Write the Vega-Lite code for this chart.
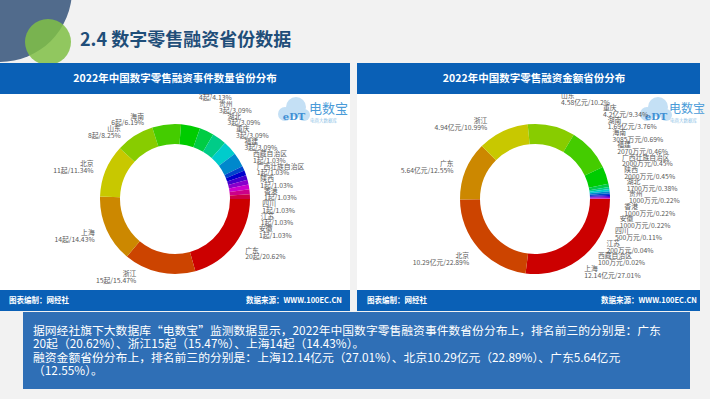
{
  "$schema": "https://vega.github.io/schema/vega-lite/v6.json",
  "width": 710,
  "height": 399,
  "autosize": {"type": "none"},
  "padding": 0,
  "background": "#f2f2f2",
  "config": {"view": {"stroke": null}, "font": "Noto Sans CJK SC", "text": {"fontSize": 6.8, "lineHeight": 6.8}},
  "data": {"values": [{}]},
  "resolve": {"scale": {"theta": "independent", "x": "independent", "y": "independent", "color": "independent"}},
  "layer": [
    {"mark": {"type": "arc", "x": 0, "y": -10, "outerRadius": 72, "innerRadius": 0, "theta": 0, "theta2": 6.2832, "fill": "#516b8c"}, "encoding": {}},
    {"mark": {"type": "arc", "x": 48, "y": 42, "outerRadius": 23, "innerRadius": 0, "theta": 0, "theta2": 6.2832, "fill": "#80bf45", "opacity": 0.85}, "encoding": {}},
    {"mark": {"type": "text", "x": 80, "y": 41, "text": "2.4 数字零售融资省份数据", "fontSize": 18, "fontWeight": "bold", "fill": "#1f4e79", "align": "left", "baseline": "middle"}, "encoding": {}},
    {"mark": {"type": "rect", "x": 0, "x2": 350, "y": 94, "y2": 290, "fill": "#ffffff"}, "encoding": {}},
    {"mark": {"type": "rect", "x": 357, "x2": 700, "y": 94, "y2": 290, "fill": "#ffffff"}, "encoding": {}},
    {"mark": {"type": "arc", "x": 285, "y": 114, "outerRadius": 7, "innerRadius": 0, "theta": 0, "theta2": 6.2832, "fill": "#c4e0f5"}, "encoding": {}},
    {"mark": {"type": "arc", "x": 296, "y": 107, "outerRadius": 10, "innerRadius": 0, "theta": 0, "theta2": 6.2832, "fill": "#c4e0f5"}, "encoding": {}},
    {"mark": {"type": "arc", "x": 304, "y": 115, "outerRadius": 6, "innerRadius": 0, "theta": 0, "theta2": 6.2832, "fill": "#c4e0f5"}, "encoding": {}},
    {"mark": {"type": "text", "x": 294, "y": 117, "text": "eDT", "fontSize": 10, "fontWeight": "bold", "fill": "#3f8fd4", "align": "center", "baseline": "middle", "font": "DejaVu Serif"}, "encoding": {}},
    {"mark": {"type": "text", "x": 309, "y": 109, "text": "电数宝", "fontSize": 13, "fill": "#4a9bd8", "align": "left", "baseline": "middle"}, "encoding": {}},
    {"mark": {"type": "text", "x": 310, "y": 121, "text": "电商大数据库", "fontSize": 4.5, "fill": "#8fbfe6", "align": "left", "baseline": "middle"}, "encoding": {}},
    {"mark": {"type": "arc", "x": 647, "y": 114, "outerRadius": 7, "innerRadius": 0, "theta": 0, "theta2": 6.2832, "fill": "#c4e0f5"}, "encoding": {}},
    {"mark": {"type": "arc", "x": 658, "y": 107, "outerRadius": 10, "innerRadius": 0, "theta": 0, "theta2": 6.2832, "fill": "#c4e0f5"}, "encoding": {}},
    {"mark": {"type": "arc", "x": 666, "y": 115, "outerRadius": 6, "innerRadius": 0, "theta": 0, "theta2": 6.2832, "fill": "#c4e0f5"}, "encoding": {}},
    {"mark": {"type": "text", "x": 656, "y": 117, "text": "eDT", "fontSize": 10, "fontWeight": "bold", "fill": "#3f8fd4", "align": "center", "baseline": "middle", "font": "DejaVu Serif"}, "encoding": {}},
    {"mark": {"type": "text", "x": 669, "y": 109, "text": "电数宝", "fontSize": 12, "fill": "#4a9bd8", "align": "left", "baseline": "middle"}, "encoding": {}},
    {"mark": {"type": "text", "x": 670, "y": 121, "text": "电商大数据库", "fontSize": 4.5, "fill": "#8fbfe6", "align": "left", "baseline": "middle"}, "encoding": {}},
    {
      "data": {"values": [
        {"rank": 1, "province": "广东", "count": 20, "pct": 20.62},
        {"rank": 2, "province": "浙江", "count": 15, "pct": 15.47},
        {"rank": 3, "province": "上海", "count": 14, "pct": 14.43},
        {"rank": 4, "province": "北京", "count": 11, "pct": 11.34},
        {"rank": 5, "province": "山东", "count": 8, "pct": 8.25},
        {"rank": 6, "province": "海南", "count": 6, "pct": 6.19},
        {"rank": 7, "province": "湖南", "count": 4, "pct": 4.13},
        {"rank": 8, "province": "贵州", "count": 3, "pct": 3.09},
        {"rank": 9, "province": "湖北", "count": 3, "pct": 3.09},
        {"rank": 10, "province": "重庆", "count": 3, "pct": 3.09},
        {"rank": 11, "province": "福建", "count": 3, "pct": 3.09},
        {"rank": 12, "province": "西藏自治区", "count": 1, "pct": 1.03},
        {"rank": 13, "province": "广西壮族自治区", "count": 1, "pct": 1.03},
        {"rank": 14, "province": "陕西", "count": 1, "pct": 1.03},
        {"rank": 15, "province": "香港", "count": 1, "pct": 1.03},
        {"rank": 16, "province": "四川", "count": 1, "pct": 1.03},
        {"rank": 17, "province": "江苏", "count": 1, "pct": 1.03},
        {"rank": 18, "province": "安徽", "count": 1, "pct": 1.03}
      ]},
      "transform": [
        {"stack": "count", "groupby": [], "sort": [{"field": "rank", "order": "ascending"}], "as": ["v0", "v1"]},
        {"calculate": "(datum.v0 + datum.v1) / 2", "as": "mid"},
        {"calculate": "[datum.province, datum.count + '起/' + datum.pct + '%']", "as": "lab"}
      ],
      "layer": [
        {
          "mark": {"type": "arc", "x": 175, "y": 199, "outerRadius": 75, "innerRadius": 55},
          "encoding": {
            "theta": {"field": "v0", "type": "quantitative", "scale": {"domain": [0, 97], "range": [1.5708, 7.854]}},
            "theta2": {"field": "v1"},
            "color": {"field": "rank", "type": "ordinal", "legend": null, "scale": {"domain": [1,2,3,4,5,6,7,8,9,10,11,12,13,14,15,16,17,18], "range": ["#cc0000","#cc4400","#cc8800","#c8c800","#88cc00","#44cc00","#00cc00","#00cc44","#00cc88","#00cccc","#0088cc","#0044cc","#0000cc","#4400cc","#8800cc","#cc00cc","#cc0088","#cc0044"]}}
          }
        },
        {
          "transform": [{"filter": "datum.rank == 1"}],
          "mark": {"type": "text", "x": 175, "y": 199, "radius": 88, "dy": -1.5, "align": "left", "baseline": "middle", "fill": "#595959"},
          "encoding": {
            "theta": {"field": "mid", "type": "quantitative", "scale": {"domain": [0, 97], "range": [1.5708, 7.854]}},
            "text": {"field": "lab", "type": "nominal"}
          }
        },
        {
          "transform": [{"filter": "datum.rank >= 3 && datum.rank <= 4"}],
          "mark": {"type": "text", "x": 175, "y": 199, "radius": 88, "dy": -1.5, "align": "right", "baseline": "middle", "fill": "#595959"},
          "encoding": {
            "theta": {"field": "mid", "type": "quantitative", "scale": {"domain": [0, 97], "range": [1.5708, 7.854]}},
            "text": {"field": "lab", "type": "nominal"}
          }
        },
        {
          "transform": [{"filter": "datum.rank == 5"}],
          "mark": {"type": "text", "x": 175, "y": 199, "radius": 88, "dx": -7, "dy": 4, "align": "right", "baseline": "middle", "fill": "#595959"},
          "encoding": {
            "theta": {"field": "mid", "type": "quantitative", "scale": {"domain": [0, 97], "range": [1.5708, 7.854]}},
            "text": {"field": "lab", "type": "nominal"}
          }
        },
        {
          "transform": [{"filter": "datum.rank == 2 || datum.rank == 6"}],
          "mark": {"type": "text", "x": 175, "y": 199, "radius": 80, "dx": -22, "dy": -3, "align": "right", "baseline": "middle", "fill": "#595959"},
          "encoding": {
            "theta": {"field": "mid", "type": "quantitative", "scale": {"domain": [0, 97], "range": [1.5708, 7.854]}},
            "text": {"field": "lab", "type": "nominal"}
          }
        },
        {
          "transform": [{"filter": "datum.rank >= 7"}],
          "mark": {"type": "text", "align": "left", "baseline": "middle", "fill": "#595959"},
          "encoding": {
            "x": {"field": "rank", "type": "quantitative", "axis": null, "scale": {"domain": [7, 8, 12, 15, 18], "range": [199, 219, 253, 264, 259], "zero": false, "nice": false}},
            "y": {"field": "rank", "type": "quantitative", "axis": null, "scale": {"domain": [7, 18], "range": [91.5, 229], "zero": false, "nice": false}},
            "text": {"field": "lab", "type": "nominal"}
          }
        }
      ],
      "resolve": {"scale": {"x": "independent", "y": "independent"}}
    },
    {
      "data": {"values": [
        {"rank": 1, "province": "上海", "wan": 121400, "pct": 27.01},
        {"rank": 2, "province": "北京", "wan": 102900, "pct": 22.89},
        {"rank": 3, "province": "广东", "wan": 56400, "pct": 12.55},
        {"rank": 4, "province": "浙江", "wan": 49400, "pct": 10.99},
        {"rank": 5, "province": "山东", "wan": 45800, "pct": 10.2},
        {"rank": 6, "province": "重庆", "wan": 42000, "pct": 9.34},
        {"rank": 7, "province": "湖南", "wan": 16900, "pct": 3.76},
        {"rank": 8, "province": "海南", "wan": 3085, "pct": 0.69},
        {"rank": 9, "province": "福建", "wan": 2070, "pct": 0.46},
        {"rank": 10, "province": "广西壮族自治区", "wan": 2000, "pct": 0.45},
        {"rank": 11, "province": "陕西", "wan": 2000, "pct": 0.45},
        {"rank": 12, "province": "湖北", "wan": 1700, "pct": 0.38},
        {"rank": 13, "province": "贵州", "wan": 1000, "pct": 0.22},
        {"rank": 14, "province": "香港", "wan": 1000, "pct": 0.22},
        {"rank": 15, "province": "安徽", "wan": 1000, "pct": 0.22},
        {"rank": 16, "province": "四川", "wan": 500, "pct": 0.11},
        {"rank": 17, "province": "江苏", "wan": 200, "pct": 0.04},
        {"rank": 18, "province": "西藏自治区", "wan": 100, "pct": 0.02}
      ]},
      "transform": [
        {"stack": "wan", "groupby": [], "sort": [{"field": "rank", "order": "ascending"}], "as": ["v0", "v1"]},
        {"calculate": "(datum.v0 + datum.v1) / 2", "as": "mid"},
        {"calculate": "[datum.province, (datum.wan >= 10000 ? (datum.wan / 10000) + '亿元' : datum.wan + '万元') + '/' + datum.pct + '%']", "as": "lab"}
      ],
      "layer": [
        {
          "mark": {"type": "arc", "x": 535, "y": 199, "outerRadius": 75, "innerRadius": 55},
          "encoding": {
            "theta": {"field": "v0", "type": "quantitative", "scale": {"domain": [0, 449455], "range": [1.5708, 7.854]}},
            "theta2": {"field": "v1"},
            "color": {"field": "rank", "type": "ordinal", "legend": null, "scale": {"domain": [1,2,3,4,5,6,7,8,9,10,11,12,13,14,15,16,17,18], "range": ["#cc0000","#cc4400","#cc8800","#c8c800","#88cc00","#44cc00","#00cc00","#00cc44","#00cc88","#00cccc","#0088cc","#0044cc","#0000cc","#4400cc","#8800cc","#cc00cc","#cc0088","#cc0044"]}}
          }
        },
        {
          "transform": [{"filter": "datum.rank == 1"}],
          "mark": {"type": "text", "x": 535, "y": 199, "radius": 88, "dx": -9, "dy": 4, "align": "left", "baseline": "middle", "fill": "#595959"},
          "encoding": {
            "theta": {"field": "mid", "type": "quantitative", "scale": {"domain": [0, 449455], "range": [1.5708, 7.854]}},
            "text": {"field": "lab", "type": "nominal"}
          }
        },
        {
          "transform": [{"filter": "datum.rank >= 2 && datum.rank <= 3"}],
          "mark": {"type": "text", "x": 535, "y": 199, "radius": 88, "dy": -1.5, "align": "right", "baseline": "middle", "fill": "#595959"},
          "encoding": {
            "theta": {"field": "mid", "type": "quantitative", "scale": {"domain": [0, 449455], "range": [1.5708, 7.854]}},
            "text": {"field": "lab", "type": "nominal"}
          }
        },
        {
          "transform": [{"filter": "datum.rank == 4"}],
          "mark": {"type": "text", "x": 535, "y": 199, "radius": 88, "dx": -10, "dy": 2, "align": "right", "baseline": "middle", "fill": "#595959"},
          "encoding": {
            "theta": {"field": "mid", "type": "quantitative", "scale": {"domain": [0, 449455], "range": [1.5708, 7.854]}},
            "text": {"field": "lab", "type": "nominal"}
          }
        },
        {
          "transform": [{"filter": "datum.rank >= 5"}],
          "mark": {"type": "text", "align": "left", "baseline": "middle", "fill": "#595959"},
          "encoding": {
            "x": {"field": "rank", "type": "quantitative", "axis": null, "scale": {"domain": [5, 6, 10, 13, 16, 18], "range": [561, 603, 622, 629, 615, 598], "zero": false, "nice": false}},
            "y": {"field": "rank", "type": "quantitative", "axis": null, "scale": {"domain": [5, 18], "range": [96, 256], "zero": false, "nice": false}},
            "text": {"field": "lab", "type": "nominal"}
          }
        }
      ],
      "resolve": {"scale": {"x": "independent", "y": "independent"}}
    },
    {"mark": {"type": "rect", "x": 0, "x2": 350, "y": 63, "y2": 94, "fill": "#0a60b6"}, "encoding": {}},
    {"mark": {"type": "rect", "x": 357, "x2": 700, "y": 63, "y2": 94, "fill": "#0a60b6"}, "encoding": {}},
    {"mark": {"type": "text", "x": 175, "y": 79, "text": "2022年中国数字零售融资事件数量省份分布", "fontSize": 10.5, "fontWeight": "bold", "fill": "#ffffff", "align": "center", "baseline": "middle"}, "encoding": {}},
    {"mark": {"type": "text", "x": 534, "y": 79, "text": "2022年中国数字零售融资金额省份分布", "fontSize": 10.5, "fontWeight": "bold", "fill": "#ffffff", "align": "center", "baseline": "middle"}, "encoding": {}},
    {"mark": {"type": "rect", "x": 0, "x2": 350, "y": 290, "y2": 311, "fill": "#0a60b6"}, "encoding": {}},
    {"mark": {"type": "rect", "x": 357, "x2": 700, "y": 290, "y2": 311, "fill": "#0a60b6"}, "encoding": {}},
    {"mark": {"type": "text", "x": 9, "y": 301, "text": "图表编制：网经社", "fontSize": 7.5, "fontWeight": "bold", "fill": "#ffffff", "align": "left", "baseline": "middle"}, "encoding": {}},
    {"mark": {"type": "text", "x": 342, "y": 301, "text": "数据来源：WWW.100EC.CN", "fontSize": 7.5, "fontWeight": "bold", "fill": "#ffffff", "align": "right", "baseline": "middle"}, "encoding": {}},
    {"mark": {"type": "text", "x": 367, "y": 301, "text": "图表编制：网经社", "fontSize": 7.5, "fontWeight": "bold", "fill": "#ffffff", "align": "left", "baseline": "middle"}, "encoding": {}},
    {"mark": {"type": "text", "x": 697, "y": 301, "text": "数据来源：WWW.100EC.CN", "fontSize": 7.5, "fontWeight": "bold", "fill": "#ffffff", "align": "right", "baseline": "middle"}, "encoding": {}},
    {"mark": {"type": "rect", "x": 23, "x2": 690, "y": 312, "y2": 389, "fill": "#2f6fb6"}, "encoding": {}},
    {"mark": {"type": "text", "x": 33, "y": 334.5, "text": ["据网经社旗下大数据库“电数宝”监测数据显示，2022年中国数字零售融资事件数省份分布上，排名前三的分别是：广东", "20起（20.62%）、浙江15起（15.47%）、上海14起（14.43%）。", "融资金额省份分布上，排名前三的分别是：上海12.14亿元（27.01%）、北京10.29亿元（22.89%）、广东5.64亿元", "（12.55%）。"], "fontSize": 11.8, "lineHeight": 13.6, "fill": "#ffffff", "align": "left", "baseline": "alphabetic", "font": "Liberation Sans Narrow, Noto Sans CJK SC"}, "encoding": {}}
  ]
}
